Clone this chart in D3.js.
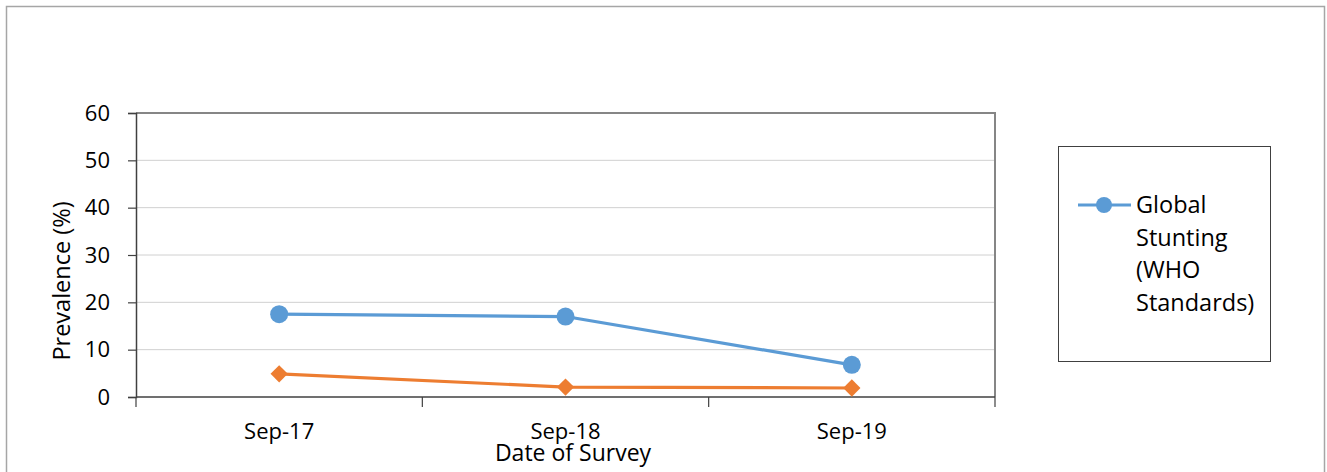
<!DOCTYPE html>
<html>
<head>
<meta charset="utf-8">
<script src="https://cdn.jsdelivr.net/npm/d3@7"></script>
<style>
  html, body { margin: 0; padding: 0; background: #fff; }
  svg { display: block; font-family: "Open Sans", Lato, sans-serif; }
</style>
</head>
<body>
<svg id="chart" width="1327" height="472"></svg>
<script>
// Survey dates and prevalence values (%)
const categories = ["Sep-17", "Sep-18", "Sep-19"];
const stuntingValues = [17.5, 17.0, 6.8];
const secondValues = [4.9, 2.1, 1.9];
const yTicks = [0, 10, 20, 30, 40, 50, 60];
const legendLines = ["Global", "Stunting", "(WHO", "Standards)"];

const svg = d3.select("#chart");

// outer chart frame
svg.append("rect")
  .attr("x", 6.5).attr("y", 6.5)
  .attr("width", 1318).attr("height", 480)
  .attr("fill", "#fff").attr("stroke", "#a6a6a6").attr("stroke-width", 1.5);

const plot = { left: 136, right: 995, top: 113, bottom: 397 };

const x = d3.scaleBand().domain(categories).range([plot.left, plot.right]);
const y = d3.scaleLinear().domain([0, 60]).range([plot.bottom, plot.top]);

// horizontal gridlines
svg.append("g").selectAll("line").data(yTicks.filter(t => t > 0)).join("line")
  .attr("x1", plot.left).attr("x2", plot.right)
  .attr("y1", d => y(d)).attr("y2", d => y(d))
  .attr("stroke", "#d0d0d0").attr("stroke-width", 1);

// plot area top and right border
svg.append("path")
  .attr("d", `M${plot.left},${plot.top}H${plot.right}V${plot.bottom}`)
  .attr("fill", "none").attr("stroke", "#868686").attr("stroke-width", 2);

// y axis
const yAxis = svg.append("g")
  .attr("transform", `translate(${plot.left},0)`)
  .call(d3.axisLeft(y).tickValues(yTicks).tickSize(8).tickPadding(18));
yAxis.select(".domain").attr("stroke", "#404040").attr("stroke-width", 1.5);
yAxis.selectAll(".tick line").attr("stroke", "#404040").attr("stroke-width", 1.2);
yAxis.selectAll("text").attr("font-size", 22).attr("fill", "#000")
  .attr("font-family", "'Open Sans', sans-serif");

// x axis: ticks at band boundaries
const bounds = categories.map(c => x(c)).concat([plot.right]);
const xAxisG = svg.append("g");
xAxisG.append("line")
  .attr("x1", plot.left).attr("x2", plot.right)
  .attr("y1", plot.bottom).attr("y2", plot.bottom)
  .attr("stroke", "#404040").attr("stroke-width", 1.5);
xAxisG.selectAll("line.tick").data(bounds).join("line")
  .attr("class", "tick")
  .attr("x1", d => d).attr("x2", d => d)
  .attr("y1", plot.bottom).attr("y2", plot.bottom + 10)
  .attr("stroke", "#404040").attr("stroke-width", 1.2);
xAxisG.selectAll("text").data(categories).join("text")
  .attr("x", d => x(d) + x.bandwidth() / 2)
  .attr("y", 439)
  .attr("text-anchor", "middle")
  .attr("font-size", 22).attr("fill", "#000")
  .text(d => d);

// axis titles
svg.append("text")
  .attr("transform", "translate(70,281) rotate(-90)")
  .attr("text-anchor", "middle")
  .attr("font-size", 23.5).attr("fill", "#000")
  .text("Prevalence (%)");
svg.append("text")
  .attr("x", 573).attr("y", 461)
  .attr("text-anchor", "middle")
  .attr("font-size", 23).attr("fill", "#000")
  .text("Date of Survey");

const cx = d => x(d) + x.bandwidth() / 2;
const line = d3.line().x(d => cx(d.cat)).y(d => y(d.v));

const blue = "#5b9bd5", orange = "#ed7d31";
const s1 = categories.map((c, i) => ({ cat: c, v: stuntingValues[i] }));
const s2 = categories.map((c, i) => ({ cat: c, v: secondValues[i] }));

// orange series with diamond markers
svg.append("path").datum(s2).attr("d", line)
  .attr("fill", "none").attr("stroke", orange).attr("stroke-width", 3.2)
  .attr("stroke-linejoin", "round");
svg.append("g").selectAll("path").data(s2).join("path")
  .attr("d", d3.symbol(d3.symbolDiamond2, 190))
  .attr("transform", d => `translate(${cx(d.cat)},${y(d.v)})`)
  .attr("fill", orange);

// blue series with circle markers
svg.append("path").datum(s1).attr("d", line)
  .attr("fill", "none").attr("stroke", blue).attr("stroke-width", 3.2)
  .attr("stroke-linejoin", "round");
svg.append("g").selectAll("circle").data(s1).join("circle")
  .attr("cx", d => cx(d.cat)).attr("cy", d => y(d.v)).attr("r", 9)
  .attr("fill", blue);

// legend
const lg = svg.append("g");
lg.append("rect")
  .attr("x", 1058.5).attr("y", 146.5).attr("width", 212).attr("height", 215)
  .attr("fill", "#fff").attr("stroke", "#404040").attr("stroke-width", 1);
lg.append("line")
  .attr("x1", 1078).attr("x2", 1131).attr("y1", 205).attr("y2", 205)
  .attr("stroke", blue).attr("stroke-width", 3.2);
lg.append("circle").attr("cx", 1104).attr("cy", 205).attr("r", 8).attr("fill", blue);
lg.append("g").selectAll("text").data(legendLines).join("text")
  .attr("x", 1136)
  .attr("y", (d, i) => 213 + i * 32.5)
  .attr("font-size", 23.5).attr("fill", "#000")
  .text(d => d);
</script>
</body>
</html>
